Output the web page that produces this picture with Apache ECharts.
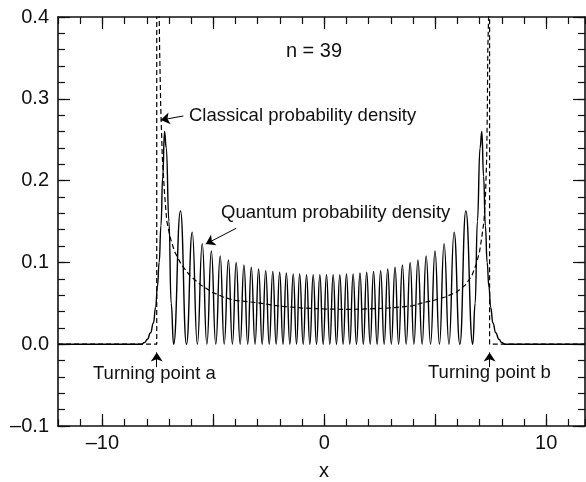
<!DOCTYPE html>
<html>
<head>
<meta charset="utf-8">
<script src="https://cdn.jsdelivr.net/npm/echarts@6/dist/echarts.min.js"></script>
<style>
html,body{margin:0;padding:0;background:#fff;}
#chart{width:586px;height:482px;}
</style>
</head>
<body>
<div id="chart"></div>
<script>
// ---- data ----
const quantumX = [
  -12, -8.25, -8.10, -7.97, -7.83, -7.70, -7.60, -7.52, -7.44, -7.36, -7.28, -7.20, -7.12, -7.00, -6.90, -6.79,
  -6.48, -6.21, -5.95, -5.72, -5.50, -5.29, -5.09, -4.89, -4.69, -4.51, -4.32, -4.14, -3.97, -3.79,
  -3.62, -3.45, -3.29, -3.12, -2.96, -2.80, -2.64, -2.48, -2.32, -2.17, -2.01, -1.86, -1.71, -1.55,
  -1.40, -1.25, -1.11, -0.95, -0.80, -0.65, -0.50, -0.35, -0.20, -0.05,
  0.10, 0.25, 0.40, 0.55, 0.70, 0.85, 1.00, 1.15, 1.30, 1.45, 1.61, 1.76, 1.91, 2.07, 2.22, 2.38,
  2.54, 2.70, 2.86, 3.02, 3.19, 3.35, 3.52, 3.69, 3.87, 4.04, 4.22, 4.41, 4.59, 4.79, 4.99, 5.19,
  5.40, 5.62, 5.85, 6.11, 6.38, 6.69,
  6.80, 6.90, 7.02, 7.10, 7.18, 7.26, 7.34, 7.42, 7.50, 7.60, 7.73, 7.87, 8.00, 8.15, 11.75
];
const quantumY = [
  0, 0, 0.002, 0.006, 0.014, 0.026, 0.045, 0.070, 0.100, 0.145, 0.205, 0.260, 0.240, 0.150, 0.050, 0,
  0.163, 0, 0.137, 0, 0.123, 0, 0.114, 0, 0.108, 0, 0.103, 0, 0.100, 0,
  0.097, 0, 0.094, 0, 0.092, 0, 0.090, 0, 0.089, 0, 0.088, 0, 0.087, 0,
  0.086, 0, 0.086, 0, 0.085, 0, 0.085, 0, 0.085, 0,
  0.085, 0, 0.085, 0, 0.085, 0, 0.086, 0, 0.086, 0, 0.087, 0, 0.088, 0, 0.089, 0,
  0.090, 0, 0.092, 0, 0.094, 0, 0.097, 0, 0.100, 0, 0.103, 0, 0.108, 0, 0.114, 0,
  0.123, 0, 0.137, 0, 0.163, 0,
  0.050, 0.150, 0.240, 0.260, 0.205, 0.145, 0.100, 0.070, 0.045, 0.026, 0.014, 0.006, 0.002, 0, 0
];
const classicalX = [
  -12, -7.55, -7.55, -7.47, -7.45, -7.42, -7.37, -7.30, -7.20, -7.10, -6.95, -6.75, -6.45, -6.05,
  -5.55, -5.05, -4.55, -4.05, -3.05, -2.05, -1.05, -0.05, 0.95, 1.95, 2.95, 3.95, 4.45, 4.95,
  5.45, 5.95, 6.35, 6.65, 6.85, 7.00, 7.10, 7.20, 7.27, 7.32, 7.35, 7.37, 7.45, 7.45, 11.75
];
const classicalY = [
  0, 0, 0.45, 0.45, 0.43, 0.36, 0.29, 0.229, 0.185, 0.151, 0.131, 0.1134, 0.0978, 0.0836,
  0.0722, 0.0635, 0.0577, 0.0537, 0.0508, 0.0467, 0.0443, 0.0431, 0.0425, 0.0431, 0.0443, 0.0467, 0.0508, 0.0537,
  0.0577, 0.0635, 0.0722, 0.0836, 0.0978, 0.1134, 0.131, 0.151, 0.185, 0.229, 0.29, 0.36, 0.45, 0, 0
];
const xMajorTicks = [-10, -5, 0, 5, 10];
const xLabelValues = [-10, 0, 10];
const yMajorTicks = [-0.1, 0, 0.1, 0.2, 0.3, 0.4];
const annotationTexts = ['n = 39', 'Classical probability density', 'Quantum probability density', 'Turning point a', 'Turning point b'];
const arrowsData = [
  [[-6.35, 0.279], [-7.37, 0.274]],
  [[-3.97, 0.1417], [-5.34, 0.1225]],
  [[-7.55, -0.028], [-7.55, -0.010]],
  [[7.45, -0.028], [7.45, -0.010]]
];
</script>
<script>
const FONT = '"Liberation Sans", Arial, Helvetica, sans-serif';
const INK = '#111';
const xMin = -12, xMax = 11.75, yMin = -0.1, yMax = 0.4;

const dash = v => (v < 0 ? '\u2013' + String(Math.abs(v)) : String(v));

function xAxisDef(pos, major, withLabels) {
  return {
    type: 'value', min: xMin, max: xMax, position: pos,
    interval: major ? undefined : 1,
    axisLine: { show: !major, onZero: false, lineStyle: { color: INK, width: 1.6 } },
    axisTick: major
      ? { show: true, inside: true, length: 12, customValues: xMajorTicks, lineStyle: { color: INK, width: 1.2 } }
      : { show: true, inside: true, length: 7, lineStyle: { color: INK, width: 1.2 } },
    axisLabel: withLabels
      ? { show: true, customValues: xLabelValues, formatter: v => dash(v), margin: 7, fontSize: 20, color: INK, fontFamily: FONT }
      : { show: false },
    splitLine: { show: false }
  };
}
function yAxisDef(pos, major, withLabels) {
  return {
    type: 'value', min: yMin, max: yMax, position: pos,
    interval: major ? undefined : 0.02,
    axisLine: { show: !major, onZero: false, lineStyle: { color: INK, width: 1.6 } },
    axisTick: major
      ? { show: true, inside: true, length: 12, customValues: yMajorTicks, lineStyle: { color: INK, width: 1.2 } }
      : { show: true, inside: true, length: 7, lineStyle: { color: INK, width: 1.2 } },
    axisLabel: withLabels
      ? { show: true, customValues: yMajorTicks, formatter: v => { const s = Math.abs(v).toFixed(1); return v < -1e-9 ? '\u2013' + s : s; }, margin: 9, fontSize: 20, color: INK, fontFamily: FONT }
      : { show: false },
    splitLine: { show: false }
  };
}

const quantumData = quantumX.map((x, i) => [x, quantumY[i]]);
const classicalData = classicalX.map((x, i) => [x, classicalY[i]]);

const textStyle = (txt, x, y, align, size) => ({
  type: 'text', x: x, y: y, silent: true,
  style: { text: txt, fill: INK, font: (size || 18.5) + 'px ' + FONT, textAlign: align || 'left', textVerticalAlign: 'middle' }
});

const chart = echarts.init(document.getElementById('chart'), null, { renderer: 'canvas' });
chart.setOption({
  animation: false,
  backgroundColor: '#fff',
  grid: { left: 58, right: 1, top: 17, bottom: 56, containLabel: false, outerBoundsMode: 'none' },
  xAxis: [
    xAxisDef('bottom', false, false),
    xAxisDef('bottom', true, true),
    xAxisDef('top', false, false),
    xAxisDef('top', true, false)
  ],
  yAxis: [
    yAxisDef('left', false, false),
    yAxisDef('left', true, true),
    yAxisDef('right', false, false),
    yAxisDef('right', true, false)
  ],
  series: [
    {
      type: 'line', xAxisIndex: 0, yAxisIndex: 0, data: quantumData,
      smooth: 0.5, smoothMonotone: 'x', symbol: 'none', clip: true,
      lineStyle: { color: '#000', width: 1.4 }
    },
    {
      type: 'line', xAxisIndex: 0, yAxisIndex: 0, data: classicalData,
      smooth: false, symbol: 'none', clip: true,
      lineStyle: { color: '#000', width: 1.2, type: [5, 3] }
    },
    {
      type: 'lines', coordinateSystem: 'cartesian2d', xAxisIndex: 0, yAxisIndex: 0,
      silent: true, z: 5,
      symbol: ['none', 'arrow'], symbolSize: 9,
      lineStyle: { color: '#000', width: 1, opacity: 1, curveness: 0 },
      effect: { show: false },
      data: arrowsData.map(a => ({ coords: [a[0], a[1]] }))
    }
  ],
  graphic: [
    textStyle(annotationTexts[0], 314, 51, 'center', 20),
    textStyle(annotationTexts[1], 189, 116),
    textStyle(annotationTexts[2], 221, 213),
    textStyle(annotationTexts[3], 93, 374),
    textStyle(annotationTexts[4], 428, 373),
    textStyle('x', 324, 471, 'center', 20)
  ]
});
</script>
</body>
</html>
